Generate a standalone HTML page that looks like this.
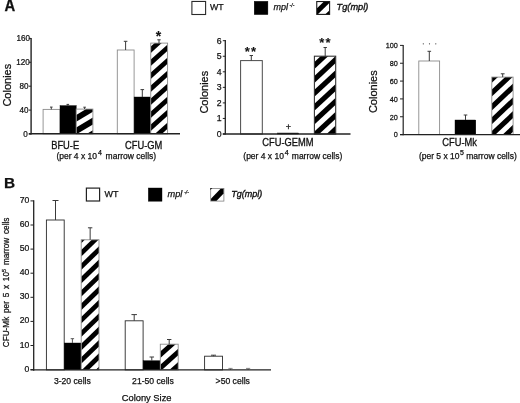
<!DOCTYPE html>
<html><head><meta charset="utf-8"><title>Figure</title>
<style>
html,body{margin:0;padding:0;background:#fff;}
body{width:520px;height:403px;overflow:hidden;}
svg{display:block;font-family:"Liberation Sans",Arial,sans-serif;}
</style></head><body>
<svg width="520" height="403" viewBox="0 0 520 403">
<defs>
<clipPath id="c1"><rect x="76.20" y="109.10" width="16.70" height="24.70"/></clipPath>
<clipPath id="c2"><rect x="150.75" y="43.10" width="16.85" height="90.70"/></clipPath>
<clipPath id="c3"><rect x="316.75" y="1.55" width="12.85" height="12.85"/></clipPath>
<clipPath id="c4"><rect x="314.40" y="56.20" width="21.30" height="77.80"/></clipPath>
<clipPath id="c5"><rect x="491.80" y="77.10" width="21.30" height="57.50"/></clipPath>
<clipPath id="c6"><rect x="210.70" y="188.40" width="13.20" height="12.70"/></clipPath>
<clipPath id="c7"><rect x="81.20" y="239.80" width="17.80" height="130.10"/></clipPath>
<clipPath id="c8"><rect x="160.30" y="344.20" width="17.90" height="25.70"/></clipPath>
</defs>
<rect x="0" y="0" width="520" height="403" fill="#fff"/>
<text x="0" y="0" font-size="15.6" text-anchor="start" font-weight="bold" fill="#111" stroke="#111" stroke-width="0.25" transform="translate(4.5 10.8) scale(0.95 1)">A</text>
<text x="0" y="0" font-size="9.0" text-anchor="end" fill="#111" stroke="#111" stroke-width="0.25" transform="translate(27.8 136.9) scale(0.9 1)">0</text>
<text x="0" y="0" font-size="9.0" text-anchor="end" fill="#111" stroke="#111" stroke-width="0.25" transform="translate(28.6 113.0) scale(0.9 1)">40</text>
<text x="0" y="0" font-size="9.0" text-anchor="end" fill="#111" stroke="#111" stroke-width="0.25" transform="translate(28.6 89.1) scale(0.9 1)">80</text>
<text x="0" y="0" font-size="9.0" text-anchor="end" fill="#111" stroke="#111" stroke-width="0.25" transform="translate(29.7 65.2) scale(0.9 1)">120</text>
<text x="0" y="0" font-size="9.0" text-anchor="end" fill="#111" stroke="#111" stroke-width="0.25" transform="translate(30.0 41.29999999999999) scale(0.9 1)">160</text>
<text x="0" y="0" font-size="11" text-anchor="start" fill="#111" stroke="#111" stroke-width="0.25" transform="translate(11.2 106.6) rotate(-90)">Colonies</text>
<rect x="43.10" y="109.40" width="16.90" height="24.40" fill="#fff" stroke="#8c8c8c" stroke-width="0.9"/>
<line x1="51.30" y1="107.10" x2="51.30" y2="109.40" stroke="#3a3a3a" stroke-width="1"/>
<line x1="50.00" y1="107.10" x2="52.60" y2="107.10" stroke="#3a3a3a" stroke-width="1"/>
<rect x="60.00" y="105.60" width="16.20" height="28.20" fill="#000" stroke="#000" stroke-width="0.4"/>
<line x1="67.80" y1="104.40" x2="67.80" y2="105.60" stroke="#3a3a3a" stroke-width="1"/>
<line x1="66.50" y1="104.40" x2="69.10" y2="104.40" stroke="#3a3a3a" stroke-width="1"/>
<rect x="76.20" y="109.10" width="16.70" height="24.70" fill="#fff"/>
<g clip-path="url(#c1)" fill="#000"><polygon points="76.20,102.40 92.90,92.38 92.90,99.18 76.20,109.20"/><polygon points="76.20,115.00 92.90,104.98 92.90,111.78 76.20,121.80"/><polygon points="76.20,127.60 92.90,117.58 92.90,124.38 76.20,134.40"/><polygon points="76.20,140.20 92.90,130.18 92.90,136.98 76.20,147.00"/></g>
<rect x="76.20" y="109.10" width="16.70" height="24.70" fill="none" stroke="#8c8c8c" stroke-width="0.9"/>
<line x1="84.60" y1="107.20" x2="84.60" y2="109.10" stroke="#3a3a3a" stroke-width="1"/>
<line x1="83.30" y1="107.20" x2="85.90" y2="107.20" stroke="#3a3a3a" stroke-width="1"/>
<rect x="117.30" y="50.00" width="16.80" height="83.80" fill="#fff" stroke="#8c8c8c" stroke-width="0.9"/>
<line x1="125.60" y1="41.30" x2="125.60" y2="50.00" stroke="#3a3a3a" stroke-width="1"/>
<line x1="123.80" y1="41.30" x2="127.40" y2="41.30" stroke="#3a3a3a" stroke-width="1"/>
<rect x="134.10" y="97.00" width="16.65" height="36.80" fill="#000" stroke="#000" stroke-width="0.4"/>
<line x1="142.30" y1="89.60" x2="142.30" y2="97.00" stroke="#3a3a3a" stroke-width="1"/>
<line x1="140.50" y1="89.60" x2="144.10" y2="89.60" stroke="#3a3a3a" stroke-width="1"/>
<rect x="150.75" y="43.10" width="16.85" height="90.70" fill="#fff"/>
<g clip-path="url(#c2)" fill="#000"><polygon points="150.75,46.60 167.60,31.44 167.60,37.73 150.75,52.90"/><polygon points="150.75,59.60 167.60,44.44 167.60,50.74 150.75,65.90"/><polygon points="150.75,72.60 167.60,57.44 167.60,63.73 150.75,78.90"/><polygon points="150.75,85.60 167.60,70.44 167.60,76.73 150.75,91.90"/><polygon points="150.75,98.60 167.60,83.44 167.60,89.73 150.75,104.90"/><polygon points="150.75,111.60 167.60,96.44 167.60,102.73 150.75,117.90"/><polygon points="150.75,124.60 167.60,109.44 167.60,115.74 150.75,130.90"/><polygon points="150.75,137.60 167.60,122.44 167.60,128.74 150.75,143.90"/></g>
<rect x="150.75" y="43.10" width="16.85" height="90.70" fill="none" stroke="#8c8c8c" stroke-width="0.9"/>
<line x1="159.00" y1="39.80" x2="159.00" y2="43.10" stroke="#3a3a3a" stroke-width="1"/>
<line x1="157.30" y1="39.80" x2="160.70" y2="39.80" stroke="#3a3a3a" stroke-width="1"/>
<text x="158.4" y="40.5" font-size="14" text-anchor="middle" font-weight="bold" fill="#111" stroke="#111" stroke-width="0.1">*</text>
<text x="0" y="0" font-size="10.2" text-anchor="start" fill="#111" stroke="#111" stroke-width="0.3" transform="translate(51.2 148.8) scale(0.915 1)">BFU-E</text>
<text x="0" y="0" font-size="10.2" text-anchor="start" fill="#111" stroke="#111" stroke-width="0.3" transform="translate(125.1 148.8) scale(0.915 1)">CFU-GM</text>
<text x="56.4" y="159.2" font-size="8.5" text-anchor="start" fill="#111" stroke="#111" stroke-width="0.25">(per 4 x 10</text>
<text x="97.9" y="154.79999999999998" font-size="7.0" text-anchor="start" fill="#111" stroke="#111" stroke-width="0.25">4</text>
<text x="105.6" y="159.2" font-size="8.5" text-anchor="start" fill="#111" stroke="#111" stroke-width="0.25">marrow cells)</text>
<rect x="191.90" y="1.45" width="13.70" height="13.05" fill="#fff" stroke="#2a2a2a" stroke-width="1.1"/>
<text x="210.0" y="10.1" font-size="8.8" text-anchor="start" fill="#111" stroke="#111" stroke-width="0.25">WT</text>
<rect x="254.20" y="1.30" width="13.70" height="13.30" fill="#000" stroke="#000" stroke-width="0.4"/>
<text x="273.4" y="10.2" font-size="9.0" text-anchor="start" font-style="italic" fill="#111" stroke="#111" stroke-width="0.25">mpl</text>
<text x="289.6" y="6.9" font-size="5.0" text-anchor="start" font-style="italic" fill="#111" stroke="#111" stroke-width="0.25">-/-</text>
<rect x="316.75" y="1.55" width="12.85" height="12.85" fill="#fff"/>
<g clip-path="url(#c3)" fill="#000"><polygon points="316.75,8.50 329.60,-3.96 329.60,2.84 316.75,15.30"/><polygon points="316.75,22.60 329.60,10.14 329.60,16.94 316.75,29.40"/></g>
<rect x="316.75" y="1.55" width="12.85" height="12.85" fill="none" stroke="#1a1a1a" stroke-width="1.1"/>
<text x="336.6" y="10.4" font-size="9.2" text-anchor="start" font-style="italic" fill="#111" stroke="#111" stroke-width="0.35">Tg(mpl)</text>
<text x="221.6" y="136.8" font-size="8.7" text-anchor="end" fill="#111" stroke="#111" stroke-width="0.25">0</text>
<text x="221.6" y="121.25" font-size="8.7" text-anchor="end" fill="#111" stroke="#111" stroke-width="0.25">1</text>
<text x="221.6" y="105.7" font-size="8.7" text-anchor="end" fill="#111" stroke="#111" stroke-width="0.25">2</text>
<text x="221.6" y="90.14999999999999" font-size="8.7" text-anchor="end" fill="#111" stroke="#111" stroke-width="0.25">3</text>
<text x="221.6" y="74.6" font-size="8.7" text-anchor="end" fill="#111" stroke="#111" stroke-width="0.25">4</text>
<text x="221.6" y="59.05" font-size="8.7" text-anchor="end" fill="#111" stroke="#111" stroke-width="0.25">5</text>
<text x="221.6" y="43.499999999999986" font-size="8.7" text-anchor="end" fill="#111" stroke="#111" stroke-width="0.25">6</text>
<text x="0" y="0" font-size="11" text-anchor="start" fill="#111" stroke="#111" stroke-width="0.25" transform="translate(207.6 113.6) rotate(-90)">Colonies</text>
<rect x="240.60" y="60.60" width="21.70" height="73.40" fill="#fff" stroke="#4a4a4a" stroke-width="1.0"/>
<line x1="251.30" y1="55.50" x2="251.30" y2="60.50" stroke="#3a3a3a" stroke-width="1"/>
<line x1="249.60" y1="55.50" x2="253.00" y2="55.50" stroke="#3a3a3a" stroke-width="1"/>
<text x="251.1" y="55.9" font-size="13" text-anchor="middle" font-weight="bold" fill="#111" stroke="#111" stroke-width="0.1"><tspan letter-spacing="1.4">**</tspan></text>
<rect x="277.50" y="133.00" width="21.20" height="1.00" fill="#000" stroke="#000" stroke-width="0.4"/>
<text x="288.3" y="130" font-size="9" text-anchor="middle" fill="#111" stroke="#111" stroke-width="0.25">+</text>
<rect x="314.40" y="56.20" width="21.30" height="77.80" fill="#fff"/>
<g clip-path="url(#c4)" fill="#000"><polygon points="314.40,62.00 335.70,42.19 335.70,49.19 314.40,69.00"/><polygon points="314.40,75.90 335.70,56.09 335.70,63.09 314.40,82.90"/><polygon points="314.40,89.80 335.70,69.99 335.70,76.99 314.40,96.80"/><polygon points="314.40,103.70 335.70,83.89 335.70,90.89 314.40,110.70"/><polygon points="314.40,117.60 335.70,97.79 335.70,104.79 314.40,124.60"/><polygon points="314.40,131.50 335.70,111.69 335.70,118.69 314.40,138.50"/><polygon points="314.40,145.40 335.70,125.59 335.70,132.59 314.40,152.40"/></g>
<rect x="314.40" y="56.20" width="21.30" height="77.80" fill="none" stroke="#333" stroke-width="1.1"/>
<line x1="325.20" y1="47.50" x2="325.20" y2="56.20" stroke="#3a3a3a" stroke-width="1"/>
<line x1="323.50" y1="47.50" x2="326.90" y2="47.50" stroke="#3a3a3a" stroke-width="1"/>
<text x="325.6" y="47.3" font-size="13" text-anchor="middle" font-weight="bold" fill="#111" stroke="#111" stroke-width="0.1"><tspan letter-spacing="1.4">**</tspan></text>
<text x="0" y="0" font-size="10.2" text-anchor="start" fill="#111" stroke="#111" stroke-width="0.3" transform="translate(262.3 145.5) scale(0.915 1)">CFU-GEMM</text>
<text x="243.3" y="158.9" font-size="8.5" text-anchor="start" fill="#111" stroke="#111" stroke-width="0.25">(per 4 x 10</text>
<text x="284.8" y="154.5" font-size="7.0" text-anchor="start" fill="#111" stroke="#111" stroke-width="0.25">4</text>
<text x="291.8" y="158.9" font-size="8.5" text-anchor="start" fill="#111" stroke="#111" stroke-width="0.25">marrow cells)</text>
<text x="0" y="0" font-size="7.9" text-anchor="end" fill="#111" stroke="#111" stroke-width="0.25" transform="translate(397.8 137.4) scale(0.92 1)">0</text>
<text x="0" y="0" font-size="7.9" text-anchor="end" fill="#111" stroke="#111" stroke-width="0.25" transform="translate(397.8 119.55999999999999) scale(0.92 1)">20</text>
<text x="0" y="0" font-size="7.9" text-anchor="end" fill="#111" stroke="#111" stroke-width="0.25" transform="translate(397.8 101.71999999999998) scale(0.92 1)">40</text>
<text x="0" y="0" font-size="7.9" text-anchor="end" fill="#111" stroke="#111" stroke-width="0.25" transform="translate(397.8 83.87999999999998) scale(0.92 1)">60</text>
<text x="0" y="0" font-size="7.9" text-anchor="end" fill="#111" stroke="#111" stroke-width="0.25" transform="translate(397.8 66.03999999999999) scale(0.92 1)">80</text>
<text x="0" y="0" font-size="7.9" text-anchor="end" fill="#111" stroke="#111" stroke-width="0.25" transform="translate(397.8 48.19999999999999) scale(0.92 1)">100</text>
<text x="0" y="0" font-size="11" text-anchor="start" fill="#111" stroke="#111" stroke-width="0.25" transform="translate(377.1 113.1) rotate(-90)">Colonies</text>
<rect x="418.80" y="61.00" width="20.80" height="73.60" fill="#fff" stroke="#8c8c8c" stroke-width="0.9"/>
<line x1="429.30" y1="51.30" x2="429.30" y2="61.00" stroke="#3a3a3a" stroke-width="1"/>
<line x1="427.50" y1="51.30" x2="431.10" y2="51.30" stroke="#3a3a3a" stroke-width="1"/>
<circle cx="423.3" cy="43.8" r="0.6" fill="#333"/>
<circle cx="429.5" cy="43.8" r="0.6" fill="#333"/>
<circle cx="435.8" cy="43.8" r="0.6" fill="#333"/>
<rect x="455.00" y="120.00" width="20.80" height="14.60" fill="#000" stroke="#000" stroke-width="0.4"/>
<line x1="465.50" y1="115.00" x2="465.50" y2="120.00" stroke="#3a3a3a" stroke-width="1"/>
<line x1="463.70" y1="115.00" x2="467.30" y2="115.00" stroke="#3a3a3a" stroke-width="1"/>
<rect x="491.80" y="77.10" width="21.30" height="57.50" fill="#fff"/>
<g clip-path="url(#c5)" fill="#000"><polygon points="491.80,75.80 513.10,55.78 513.10,62.78 491.80,82.80"/><polygon points="491.80,89.60 513.10,69.58 513.10,76.58 491.80,96.60"/><polygon points="491.80,103.40 513.10,83.38 513.10,90.38 491.80,110.40"/><polygon points="491.80,117.20 513.10,97.18 513.10,104.18 491.80,124.20"/><polygon points="491.80,131.00 513.10,110.98 513.10,117.98 491.80,138.00"/><polygon points="491.80,144.80 513.10,124.78 513.10,131.78 491.80,151.80"/></g>
<rect x="491.80" y="77.10" width="21.30" height="57.50" fill="none" stroke="#8c8c8c" stroke-width="0.9"/>
<line x1="502.70" y1="73.80" x2="502.70" y2="77.10" stroke="#3a3a3a" stroke-width="1"/>
<line x1="500.80" y1="73.80" x2="504.60" y2="73.80" stroke="#3a3a3a" stroke-width="1"/>
<text x="0" y="0" font-size="10.2" text-anchor="start" fill="#111" stroke="#111" stroke-width="0.3" transform="translate(442.3 145.5) scale(0.915 1)">CFU-Mk</text>
<text x="418.9" y="159.29999999999998" font-size="8.5" text-anchor="start" fill="#111" stroke="#111" stroke-width="0.25">(per 5 x 10</text>
<text x="460.1" y="154.89999999999998" font-size="7.0" text-anchor="start" fill="#111" stroke="#111" stroke-width="0.25">5</text>
<text x="466.2" y="159.29999999999998" font-size="8.5" text-anchor="start" fill="#111" stroke="#111" stroke-width="0.25">marrow cells)</text>
<text x="4.0" y="187.5" font-size="15.4" text-anchor="start" font-weight="bold" fill="#111" stroke="#111" stroke-width="0.25">B</text>
<text x="0" y="0" font-size="9.6" text-anchor="end" fill="#111" stroke="#111" stroke-width="0.25" transform="translate(29.4 371.6) scale(0.9 1)">0</text>
<text x="0" y="0" font-size="9.6" text-anchor="end" fill="#111" stroke="#111" stroke-width="0.25" transform="translate(29.4 347.5) scale(0.9 1)">10</text>
<text x="0" y="0" font-size="9.6" text-anchor="end" fill="#111" stroke="#111" stroke-width="0.25" transform="translate(29.4 323.40000000000003) scale(0.9 1)">20</text>
<text x="0" y="0" font-size="9.6" text-anchor="end" fill="#111" stroke="#111" stroke-width="0.25" transform="translate(29.4 299.3) scale(0.9 1)">30</text>
<text x="0" y="0" font-size="9.6" text-anchor="end" fill="#111" stroke="#111" stroke-width="0.25" transform="translate(29.4 275.20000000000005) scale(0.9 1)">40</text>
<text x="0" y="0" font-size="9.6" text-anchor="end" fill="#111" stroke="#111" stroke-width="0.25" transform="translate(29.4 251.10000000000002) scale(0.9 1)">50</text>
<text x="0" y="0" font-size="9.6" text-anchor="end" fill="#111" stroke="#111" stroke-width="0.25" transform="translate(29.4 227.0) scale(0.9 1)">60</text>
<text x="0" y="0" font-size="9.6" text-anchor="end" fill="#111" stroke="#111" stroke-width="0.25" transform="translate(29.4 202.9) scale(0.9 1)">70</text>
<text x="0" y="0" font-size="8.8" text-anchor="start" fill="#111" stroke="#111" stroke-width="0.25" transform="translate(9.3 347.3) rotate(-90) scale(0.934 1)"><tspan word-spacing="1.6">CFU-Mk per 5 x 10<tspan dy="-3.5" font-size="6">5</tspan><tspan dy="3.5"> marrow cells</tspan></tspan></text>
<rect x="86.40" y="188.10" width="13.20" height="12.90" fill="#fff" stroke="#222" stroke-width="1.2"/>
<text x="104.4" y="197.3" font-size="9.0" text-anchor="start" fill="#111" stroke="#111" stroke-width="0.25">WT</text>
<rect x="148.30" y="188.00" width="13.70" height="13.20" fill="#000" stroke="#000" stroke-width="0.4"/>
<text x="167.5" y="197.0" font-size="9.2" text-anchor="start" font-style="italic" fill="#111" stroke="#111" stroke-width="0.25">mpl</text>
<text x="184.2" y="193.5" font-size="5.0" text-anchor="start" font-style="italic" fill="#111" stroke="#111" stroke-width="0.25">-/-</text>
<rect x="210.70" y="188.40" width="13.20" height="12.70" fill="#fff"/>
<g clip-path="url(#c6)" fill="#000"><polygon points="210.70,198.90 223.90,185.30 223.90,193.30 210.70,206.90"/></g>
<rect x="210.70" y="188.40" width="13.20" height="12.70" fill="none" stroke="#808080" stroke-width="0.8"/>
<polygon points="210.3,188 212.3,188 210.3,190" fill="#111"/>
<text x="231.2" y="197.2" font-size="9.0" text-anchor="start" font-style="italic" fill="#111" stroke="#111" stroke-width="0.35">Tg(mpl)</text>
<rect x="46.40" y="220.00" width="17.80" height="149.90" fill="#fff" stroke="#2a2a2a" stroke-width="0.9"/>
<line x1="55.50" y1="200.50" x2="55.50" y2="220.00" stroke="#3a3a3a" stroke-width="1"/>
<line x1="52.50" y1="200.50" x2="58.50" y2="200.50" stroke="#3a3a3a" stroke-width="1"/>
<rect x="64.20" y="343.00" width="17.00" height="26.90" fill="#000" stroke="#000" stroke-width="0.4"/>
<line x1="72.40" y1="338.70" x2="72.40" y2="343.00" stroke="#555" stroke-width="1"/>
<line x1="70.70" y1="338.70" x2="74.10" y2="338.70" stroke="#555" stroke-width="1"/>
<rect x="81.20" y="239.80" width="17.80" height="130.10" fill="#fff"/>
<g clip-path="url(#c7)" fill="#000"><polygon points="81.20,236.60 99.00,219.33 99.00,225.93 81.20,243.20"/><polygon points="81.20,250.00 99.00,232.73 99.00,239.33 81.20,256.60"/><polygon points="81.20,263.40 99.00,246.13 99.00,252.73 81.20,270.00"/><polygon points="81.20,276.80 99.00,259.53 99.00,266.13 81.20,283.40"/><polygon points="81.20,290.20 99.00,272.93 99.00,279.53 81.20,296.80"/><polygon points="81.20,303.60 99.00,286.33 99.00,292.93 81.20,310.20"/><polygon points="81.20,317.00 99.00,299.73 99.00,306.33 81.20,323.60"/><polygon points="81.20,330.40 99.00,313.13 99.00,319.73 81.20,337.00"/><polygon points="81.20,343.80 99.00,326.53 99.00,333.13 81.20,350.40"/><polygon points="81.20,357.20 99.00,339.93 99.00,346.53 81.20,363.80"/><polygon points="81.20,370.60 99.00,353.33 99.00,359.93 81.20,377.20"/><polygon points="81.20,384.00 99.00,366.73 99.00,373.33 81.20,390.60"/></g>
<rect x="81.20" y="239.80" width="17.80" height="130.10" fill="none" stroke="#8c8c8c" stroke-width="0.9"/>
<line x1="90.15" y1="227.80" x2="90.15" y2="239.80" stroke="#3a3a3a" stroke-width="1"/>
<line x1="87.95" y1="227.80" x2="92.35" y2="227.80" stroke="#3a3a3a" stroke-width="1"/>
<rect x="125.20" y="320.80" width="17.90" height="49.10" fill="#fff" stroke="#2a2a2a" stroke-width="0.9"/>
<line x1="134.20" y1="314.60" x2="134.20" y2="320.80" stroke="#3a3a3a" stroke-width="1"/>
<line x1="131.45" y1="314.60" x2="136.95" y2="314.60" stroke="#3a3a3a" stroke-width="1"/>
<rect x="143.10" y="360.70" width="17.20" height="9.20" fill="#000" stroke="#000" stroke-width="0.4"/>
<line x1="151.80" y1="357.00" x2="151.80" y2="360.70" stroke="#3a3a3a" stroke-width="1"/>
<line x1="149.55" y1="357.00" x2="154.05" y2="357.00" stroke="#3a3a3a" stroke-width="1"/>
<rect x="160.30" y="344.20" width="17.90" height="25.70" fill="#fff"/>
<g clip-path="url(#c8)" fill="#000"><polygon points="160.30,338.20 178.20,322.09 178.20,328.69 160.30,344.80"/><polygon points="160.30,351.50 178.20,335.39 178.20,341.99 160.30,358.10"/><polygon points="160.30,364.80 178.20,348.69 178.20,355.29 160.30,371.40"/><polygon points="160.30,378.10 178.20,361.99 178.20,368.59 160.30,384.70"/></g>
<rect x="160.30" y="344.20" width="17.90" height="25.70" fill="none" stroke="#8c8c8c" stroke-width="0.9"/>
<line x1="169.20" y1="339.50" x2="169.20" y2="344.20" stroke="#3a3a3a" stroke-width="1"/>
<line x1="167.00" y1="339.50" x2="171.40" y2="339.50" stroke="#3a3a3a" stroke-width="1"/>
<rect x="204.60" y="356.20" width="17.90" height="13.70" fill="#fff" stroke="#2a2a2a" stroke-width="0.9"/>
<line x1="213.50" y1="355.20" x2="213.50" y2="356.20" stroke="#3a3a3a" stroke-width="1"/>
<line x1="211.00" y1="355.20" x2="216.00" y2="355.20" stroke="#3a3a3a" stroke-width="1"/>
<line x1="230.50" y1="368.40" x2="230.50" y2="369.90" stroke="#777" stroke-width="0.9"/>
<line x1="228.40" y1="368.40" x2="232.60" y2="368.40" stroke="#777" stroke-width="0.9"/>
<line x1="248.10" y1="368.40" x2="248.10" y2="369.90" stroke="#777" stroke-width="0.9"/>
<line x1="246.00" y1="368.40" x2="250.20" y2="368.40" stroke="#777" stroke-width="0.9"/>
<text x="53.9" y="383.7" font-size="8.65" text-anchor="start" fill="#111" stroke="#111" stroke-width="0.25">3-20 cells</text>
<text x="132.1" y="383.7" font-size="8.65" text-anchor="start" fill="#111" stroke="#111" stroke-width="0.25">21-50 cells</text>
<text x="215.6" y="383.7" font-size="8.65" text-anchor="start" fill="#111" stroke="#111" stroke-width="0.25">&gt;50 cells</text>
<text x="121.7" y="400.7" font-size="9.35" text-anchor="start" fill="#111" stroke="#111" stroke-width="0.25">Colony Size</text>
<line x1="28.80" y1="134.00" x2="31.10" y2="134.00" stroke="#222" stroke-width="1"/>
<line x1="28.80" y1="110.10" x2="31.10" y2="110.10" stroke="#222" stroke-width="1"/>
<line x1="28.80" y1="86.20" x2="31.10" y2="86.20" stroke="#222" stroke-width="1"/>
<line x1="28.80" y1="62.30" x2="31.10" y2="62.30" stroke="#222" stroke-width="1"/>
<line x1="28.80" y1="38.40" x2="31.10" y2="38.40" stroke="#222" stroke-width="1"/>
<line x1="31.10" y1="38.00" x2="31.10" y2="134.50" stroke="#222" stroke-width="1.4"/>
<line x1="28.80" y1="133.80" x2="180.00" y2="133.80" stroke="#222" stroke-width="1.5"/>
<line x1="222.80" y1="134.00" x2="225.30" y2="134.00" stroke="#222" stroke-width="1"/>
<line x1="222.80" y1="118.45" x2="225.30" y2="118.45" stroke="#222" stroke-width="1"/>
<line x1="222.80" y1="102.90" x2="225.30" y2="102.90" stroke="#222" stroke-width="1"/>
<line x1="222.80" y1="87.35" x2="225.30" y2="87.35" stroke="#222" stroke-width="1"/>
<line x1="222.80" y1="71.80" x2="225.30" y2="71.80" stroke="#222" stroke-width="1"/>
<line x1="222.80" y1="56.25" x2="225.30" y2="56.25" stroke="#222" stroke-width="1"/>
<line x1="222.80" y1="40.70" x2="225.30" y2="40.70" stroke="#222" stroke-width="1"/>
<line x1="225.30" y1="40.00" x2="225.30" y2="134.60" stroke="#222" stroke-width="1.3"/>
<line x1="222.80" y1="134.00" x2="350.50" y2="134.00" stroke="#222" stroke-width="1.3"/>
<line x1="400.00" y1="134.60" x2="403.20" y2="134.60" stroke="#222" stroke-width="1"/>
<line x1="400.00" y1="116.76" x2="403.20" y2="116.76" stroke="#222" stroke-width="1"/>
<line x1="400.00" y1="98.92" x2="403.20" y2="98.92" stroke="#222" stroke-width="1"/>
<line x1="400.00" y1="81.08" x2="403.20" y2="81.08" stroke="#222" stroke-width="1"/>
<line x1="400.00" y1="63.24" x2="403.20" y2="63.24" stroke="#222" stroke-width="1"/>
<line x1="400.00" y1="45.40" x2="403.20" y2="45.40" stroke="#222" stroke-width="1"/>
<line x1="403.20" y1="44.90" x2="403.20" y2="135.20" stroke="#222" stroke-width="1.2"/>
<line x1="400.00" y1="134.60" x2="520.00" y2="134.60" stroke="#222" stroke-width="1.2"/>
<line x1="30.50" y1="369.60" x2="33.70" y2="369.60" stroke="#222" stroke-width="1"/>
<line x1="30.50" y1="345.50" x2="33.70" y2="345.50" stroke="#222" stroke-width="1"/>
<line x1="30.50" y1="321.40" x2="33.70" y2="321.40" stroke="#222" stroke-width="1"/>
<line x1="30.50" y1="297.30" x2="33.70" y2="297.30" stroke="#222" stroke-width="1"/>
<line x1="30.50" y1="273.20" x2="33.70" y2="273.20" stroke="#222" stroke-width="1"/>
<line x1="30.50" y1="249.10" x2="33.70" y2="249.10" stroke="#222" stroke-width="1"/>
<line x1="30.50" y1="225.00" x2="33.70" y2="225.00" stroke="#222" stroke-width="1"/>
<line x1="30.50" y1="200.90" x2="33.70" y2="200.90" stroke="#222" stroke-width="1"/>
<line x1="33.70" y1="200.20" x2="33.70" y2="370.70" stroke="#222" stroke-width="1.3"/>
<line x1="30.50" y1="369.90" x2="271.00" y2="369.90" stroke="#222" stroke-width="1.4"/>
</svg>
</body></html>
